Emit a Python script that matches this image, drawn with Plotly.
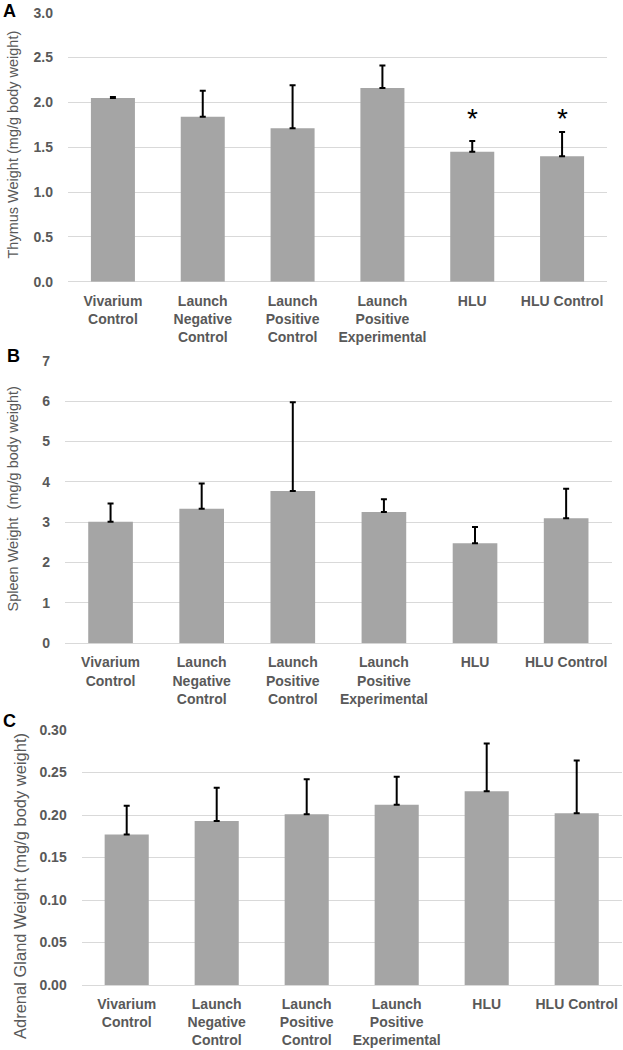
import plotly.graph_objects as go

categories = ["Vivarium<br>Control", "Launch<br>Negative<br>Control", "Launch<br>Positive<br>Control",
              "Launch<br>Positive<br>Experimental", "HLU", "HLU Control"]

thymus_mean = [2.05, 1.84, 1.71, 2.16, 1.45, 1.40]
thymus_err = [0.01, 0.29, 0.48, 0.25, 0.12, 0.27]

spleen_mean = [3.01, 3.33, 3.77, 3.25, 2.48, 3.10]
spleen_err = [0.45, 0.63, 2.20, 0.32, 0.40, 0.73]

adrenal_mean = [0.177, 0.193, 0.201, 0.212, 0.228, 0.202]
adrenal_err = [0.034, 0.039, 0.041, 0.033, 0.056, 0.062]

star_categories = ["HLU", "HLU Control"]
star_y = [1.86, 1.86]

W, H = 623, 1050
BAR = "#a5a5a5"
GRID = "#d9d9d9"
TXT = "#595959"
FONT = "Liberation Sans"

def px_x(a, b):
    return [a / W, b / W]

def px_y(top, bottom):
    return [1 - bottom / H, 1 - top / H]

fig = go.Figure()

panels = [
    (thymus_mean, thymus_err, "x", "y"),
    (spleen_mean, spleen_err, "x2", "y2"),
    (adrenal_mean, adrenal_err, "x3", "y3"),
]
for mean, err, xa, ya in panels:
    fig.add_trace(go.Bar(
        x=categories, y=mean, xaxis=xa, yaxis=ya,
        marker=dict(color=BAR, line=dict(width=0)),
        error_y=dict(type="data", array=err, arrayminus=[0] * len(err), symmetric=False,
                     color="black", thickness=2, width=3),
        showlegend=False,
    ))

axis_common = dict(showgrid=False, showline=False, zeroline=False, ticks="", automargin=False,
                   tickfont=dict(family=FONT, size=14, color=TXT, weight="bold"),
                   ticklabelstandoff=9, ticklabeloverflow="allow", type="category")
yaxis_common = dict(showgrid=True, gridcolor=GRID, gridwidth=1, zeroline=True, zerolinecolor=GRID,
                    zerolinewidth=1, showline=False, ticks="", automargin=False,
                    tickfont=dict(family=FONT, size=14, color=TXT, weight="bold"),
                    ticklabelstandoff=14, ticklabeloverflow="allow")

fig.update_layout(
    template="none",
    width=W, height=H,
    margin=dict(l=0, r=0, t=0, b=0, autoexpand=False),
    paper_bgcolor="white", plot_bgcolor="white",
    bargap=0.51,
    xaxis=dict(domain=px_x(68, 607), anchor="y", **axis_common),
    yaxis=dict(domain=px_y(12.7, 281.7), anchor="x", range=[0, 3.0], dtick=0.5,
               tickformat=".1f", **yaxis_common),
    xaxis2=dict(domain=px_x(65, 611.7), anchor="y2", **axis_common),
    yaxis2=dict(domain=px_y(360.7, 643.3), anchor="x2", range=[0, 7], dtick=1,
                tickformat="d", **yaxis_common),
    xaxis3=dict(domain=px_x(81.7, 621.7), anchor="y3", **axis_common),
    yaxis3=dict(domain=px_y(730, 985), anchor="x3", range=[0, 0.30], dtick=0.05,
                tickformat=".2f", **yaxis_common),
)

# significance stars
for c, sy in zip(star_categories, star_y):
    fig.add_annotation(x=c, y=sy, xref="x", yref="y", text="*", showarrow=False,
                       font=dict(family=FONT, size=28, color="black"), yanchor="middle", yshift=-4)

# y-axis titles
titles = [
    ("Thymus Weight (mg/g body weight)", 12.5, 145, 14.5),
    ("Spleen Weight  (mg/g body weight)", 12.5, 499, 14.5),
    ("Adrenal Gland Weight (mg/g body weight)", 20, 886, 16.5),
]
for t, cx, cy, fs in titles:
    fig.add_annotation(x=cx / W, y=1 - cy / H, xref="paper", yref="paper", text=t,
                       textangle=-90, showarrow=False, xanchor="center", yanchor="middle",
                       font=dict(family=FONT, size=fs, color=TXT))

# panel letters
letters = [("A", 9, 11), ("B", 13, 356), ("C", 10, 721)]
for t, cx, cy in letters:
    fig.add_annotation(x=cx / W, y=1 - cy / H, xref="paper", yref="paper", text="<b>%s</b>" % t,
                       showarrow=False, xanchor="center", yanchor="middle",
                       font=dict(family=FONT, size=18, color="black"))

fig.write_html("out.html", config={"displayModeBar": False},
               post_script="document.body.style.margin='0';document.body.style.overflow='hidden';")
